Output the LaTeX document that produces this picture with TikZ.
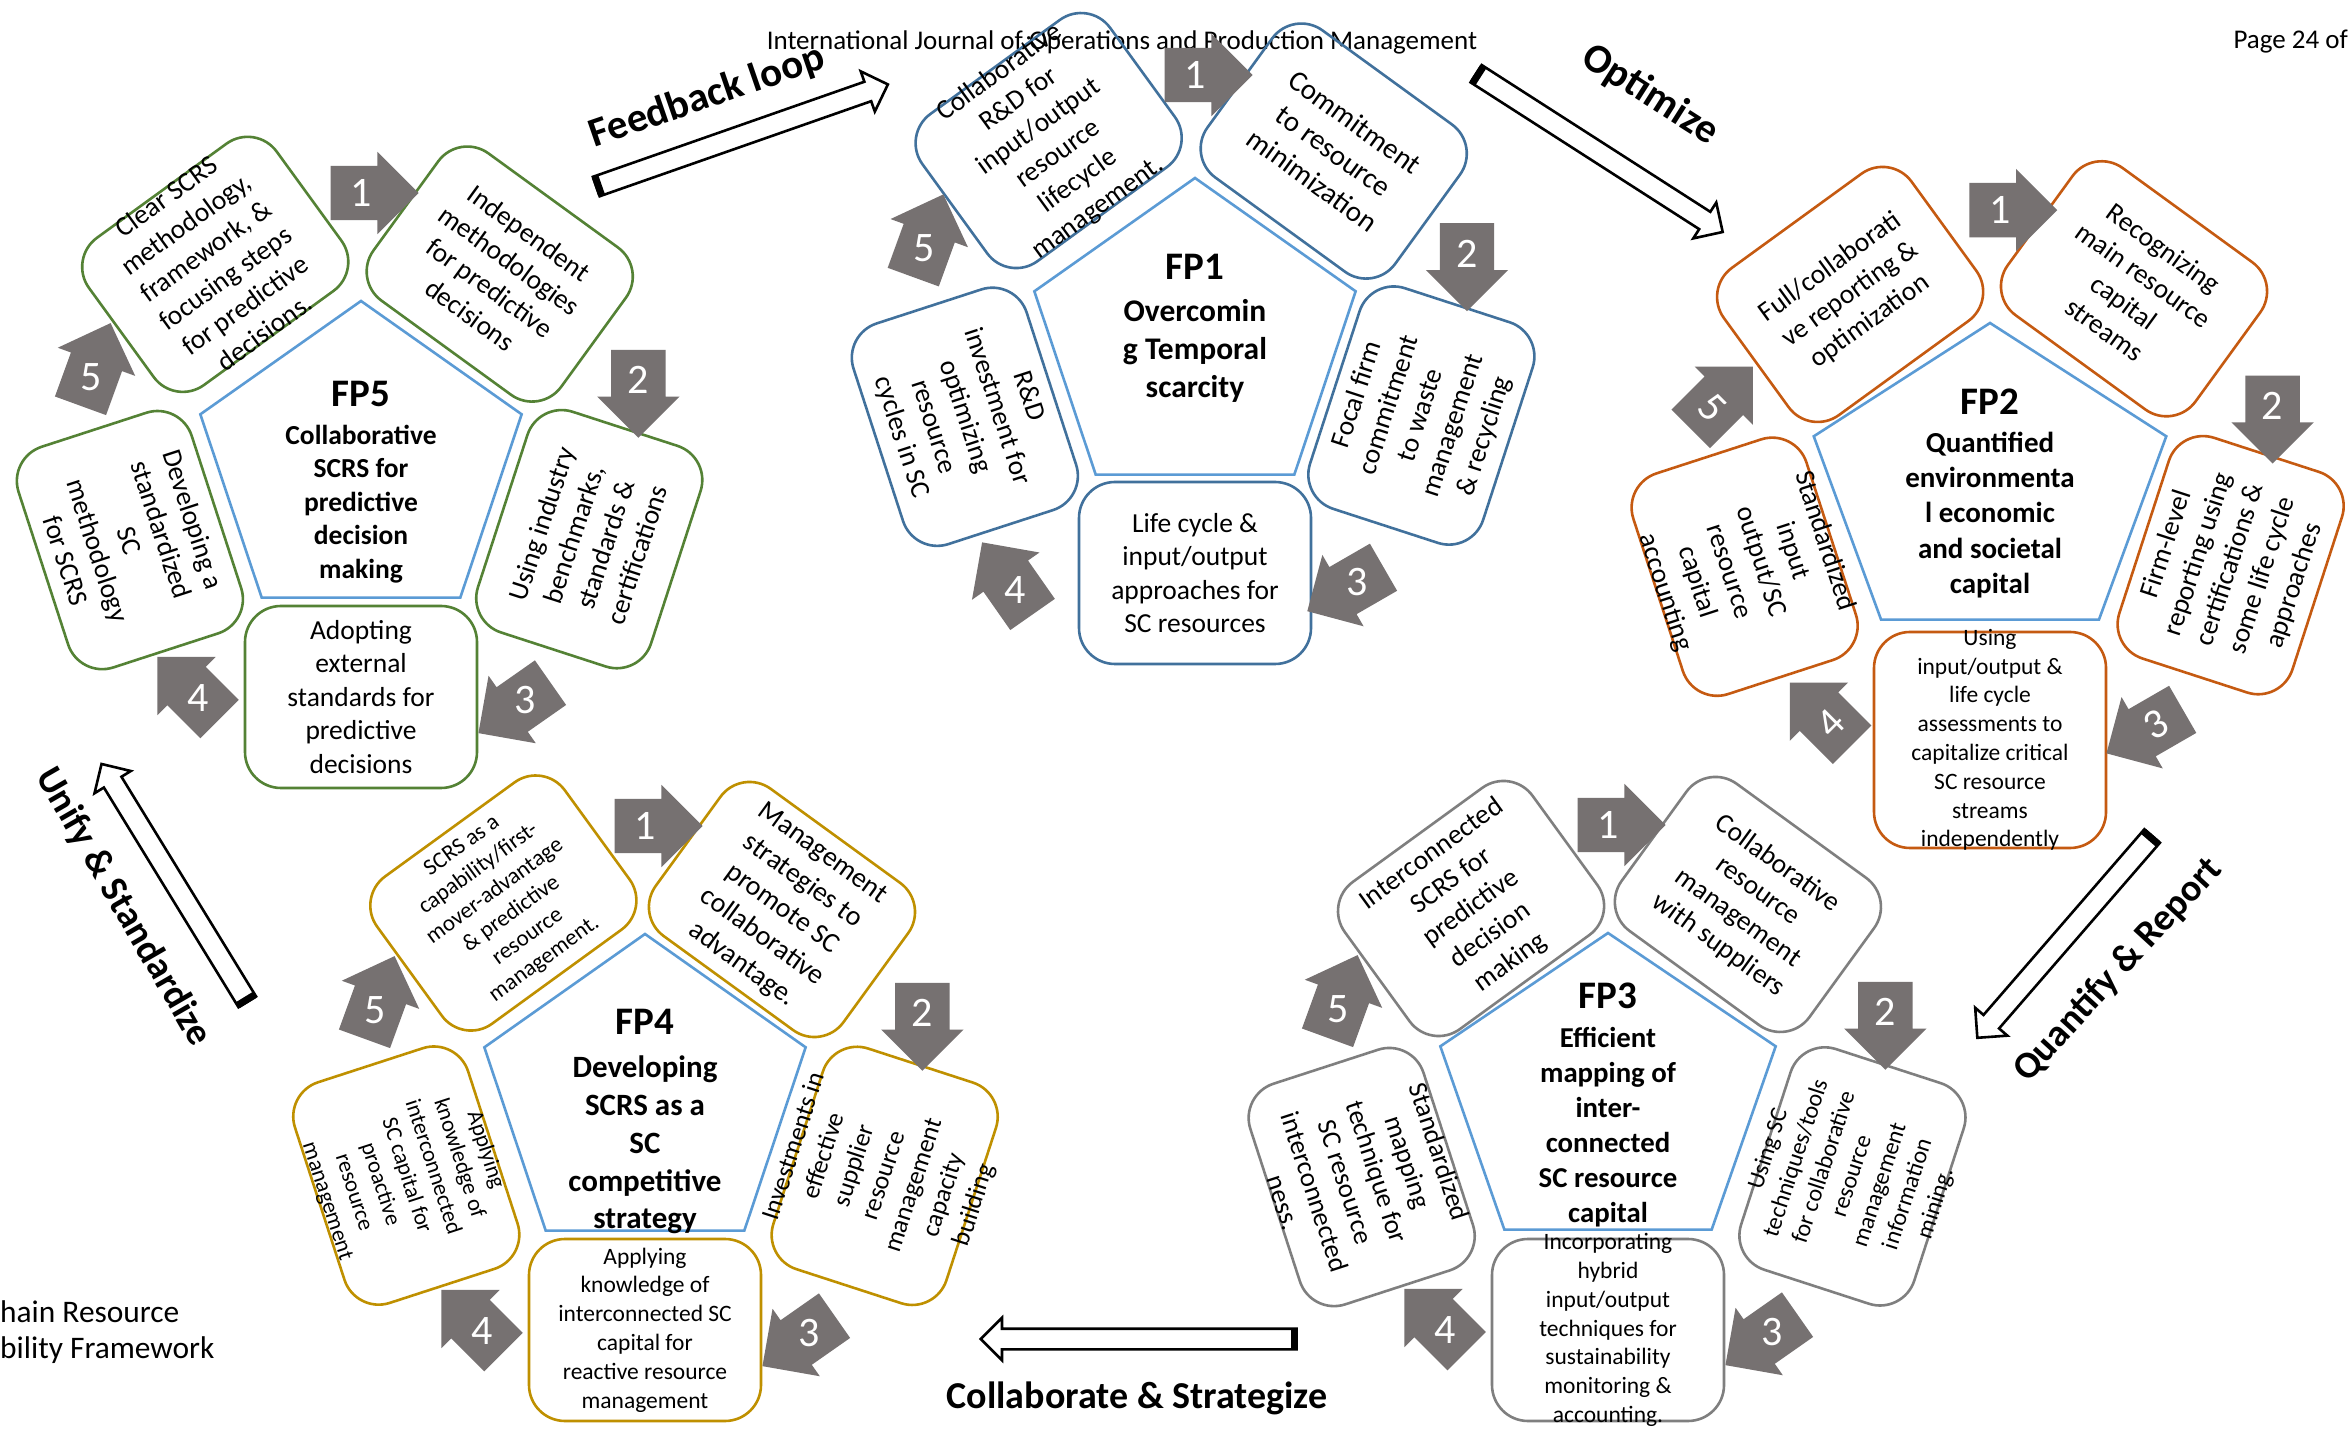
\documentclass[tikz,border=0pt]{standalone}
\usepackage{fontspec}
\setmainfont{Carlito}
\usetikzlibrary{calc,shapes.geometric,shapes.arrows}
\definecolor{fpGreen}{RGB}{84,130,53}
\definecolor{fpSteel}{RGB}{65,113,156}
\definecolor{fpRust}{RGB}{197,90,17}
\definecolor{fpGray}{RGB}{127,127,127}
\definecolor{fpGold}{RGB}{191,144,0}
\definecolor{pentBlue}{RGB}{91,155,213}
\definecolor{stepGray}{RGB}{118,113,113}
\tikzset{
  fpbox/.style={draw,rounded corners=36pt,line width=2.6pt,minimum width=232pt,minimum height=182pt,inner sep=0pt},
  fptext/.style={align=center,inner sep=0pt,font=\fontsize{27.5}{33.5}\selectfont},
  fpsmall/.style={align=center,inner sep=0pt,font=\fontsize{23.5}{28.8}\selectfont},
  pentbox/.style={draw=pentBlue,regular polygon,regular polygon sides=5,minimum size=328pt,inner sep=0pt,line width=2.6pt},
  fpname/.style={font=\bfseries\fontsize{39}{44}\selectfont,inner sep=0pt},
  fptitle/.style={align=center,inner sep=0pt},
  steparrow/.style={single arrow,fill=stepGray,minimum height=88pt,inner xsep=0pt,inner ysep=27pt,single arrow head extend=14pt},
  stepnum/.style={text=white,font=\fontsize{42}{42}\selectfont,inner sep=0pt},
  flowarrow/.style={single arrow,draw=black,fill=white,line width=2.6pt,inner xsep=0pt,inner ysep=9pt,single arrow head extend=11pt,anchor=west},
  flowlabel/.style={font=\bfseries\fontsize{38}{44}\selectfont,inner sep=0pt}
}
\begin{document}
\begin{tikzpicture}[x=1pt,y=1pt]
\useasboundingbox (0,0) rectangle (2352,1428);
\fill[white] (0,0) rectangle (2352,1428);
% page header and cut-off caption
\node[font=\fontsize{27}{32}\selectfont] (header) at (1122,1386) {International Journal of Operations and Production Management};
\node[font=\fontsize{27}{32}\selectfont,anchor=west] (pagenum) at (2230,1386) {Page 24 of};
\node[font=\fontsize{31.4}{36}\selectfont,anchor=base west,inner sep=0pt] (capone) at (0,106) {hain Resource};
\node[font=\fontsize{31.4}{36}\selectfont,anchor=base west,inner sep=0pt] (captwo) at (0,70) {bility Framework};

% centres of the five propositions
\coordinate (fp5) at (361,963);
\coordinate (fp1) at (1195,1086);
\coordinate (fp2) at (1990,941);
\coordinate (fp3) at (1608,331);
\coordinate (fp4) at (645,330);

% FP5
\node[pentbox,xscale=1.03] (fp5pent) at (fp5) {};
\node[fpname] (fp5name) at ($(fp5)+(0,71)$) {FP5};
\node[fptitle,font=\bfseries\fontsize{27.5}{33.5}\selectfont] (fp5title) at ($(fp5)+(0,-39)$) {Collaborative\\SCRS for\\predictive\\decision\\making};
\node[fpbox,draw=fpGreen,rotate=36] (fp5boxa) at ($(fp5)+(126:248)$) {};
\node[fptext,rotate=36] (fp5texta) at (fp5boxa) {Clear SCRS\\methodology,\\framework, \&\\focusing steps\\for predictive\\decisions.};
\node[fpbox,draw=fpGreen,rotate=-36] (fp5boxb) at ($(fp5)+(54:236)$) {};
\node[fptext,rotate=-36] (fp5textb) at (fp5boxb) {Independent\\methodologies\\for predictive\\decisions};
\node[fpbox,draw=fpGreen,rotate=72] (fp5boxc) at ($(fp5)+(-18:240)$) {};
\node[fptext,rotate=72] (fp5textc) at (fp5boxc) {Using industry\\benchmarks,\\standards \&\\certifications};
\node[fpbox,draw=fpGreen] (fp5boxd) at ($(fp5)+(-90:232)$) {};
\node[fptext] (fp5textd) at (fp5boxd) {Adopting\\external\\standards for\\predictive\\decisions};
\node[fpbox,draw=fpGreen,rotate=-72] (fp5boxe) at ($(fp5)+(198:243)$) {};
\node[fptext,rotate=-72] (fp5texte) at (fp5boxe) {Developing a\\standardized\\SC\\methodology\\for SCRS};

% FP1
\node[pentbox,xscale=1.03] (fp1pent) at (fp1) {};
\node[fpname] (fp1name) at ($(fp1)+(0,75)$) {FP1};
\node[fptitle,font=\bfseries\fontsize{31.5}{38.4}\selectfont] (fp1title) at ($(fp1)+(0,-9)$) {Overcomin\\g Temporal\\scarcity};
\node[fpbox,draw=fpSteel,rotate=36] (fp1boxa) at ($(fp1)+(126:249)$) {};
\node[fptext,rotate=36] (fp1texta) at (fp1boxa) {Collaborative\\R\&D for\\input/output\\resource\\lifecycle\\management.};
\node[fpbox,draw=fpSteel,rotate=-36] (fp1boxb) at ($(fp1)+(54:236)$) {};
\node[fptext,rotate=-36,font=\fontsize{29}{36}\selectfont] (fp1textb) at (fp1boxb) {Commitment\\to resource\\minimization};
\node[fpbox,draw=fpSteel,rotate=72] (fp1boxc) at ($(fp1)+(-18:238)$) {};
\node[fptext,rotate=72] (fp1textc) at (fp1boxc) {Focal firm\\commitment\\to waste\\management\\\& recycling};
\node[fpbox,draw=fpSteel] (fp1boxd) at ($(fp1)+(-90:231)$) {};
\node[fptext] (fp1textd) at (fp1boxd) {Life cycle \&\\input/output\\approaches for\\SC resources};
\node[fpbox,draw=fpSteel,rotate=-72] (fp1boxe) at ($(fp1)+(198:242)$) {};
\node[fptext,rotate=-72] (fp1texte) at (fp1boxe) {R\&D\\investment for\\optimizing\\resource\\cycles in SC};

% FP2
\node[pentbox,xscale=1.13] (fp2pent) at (fp2) {};
\node[fpname] (fp2name) at ($(fp2)+(0,85)$) {FP2};
\node[fptitle,font=\bfseries\fontsize{29}{35.4}\selectfont] (fp2title) at ($(fp2)+(0,-28)$) {Quantified\\environmenta\\l economic\\and societal\\capital};
\node[fpbox,draw=fpRust,rotate=36] (fp2boxa) at ($(fp2)+(126:238)$) {};
\node[fptext,rotate=36] (fp2texta) at (fp2boxa) {Full/collaborati\\ve reporting \&\\optimization};
\node[fpbox,draw=fpRust,rotate=-36] (fp2boxb) at ($(fp2)+(54:245)$) {};
\node[fptext,rotate=-36] (fp2textb) at (fp2boxb) {Recognizing\\main resource\\capital\\streams};
\node[fpbox,draw=fpRust,rotate=72] (fp2boxc) at ($(fp2)+(-18:253)$) {};
\node[fptext,rotate=72] (fp2textc) at (fp2boxc) {Firm-level\\reporting using\\certifications \&\\some life cycle\\approaches};
\node[fpbox,draw=fpRust,minimum height=216pt] (fp2boxd) at ($(fp2)+(-90:253)$) {};
\node[fpsmall] (fp2textd) at (fp2boxd) {Using\\input/output \&\\life cycle\\assessments to\\capitalize critical\\SC resource\\streams\\independently};
\node[fpbox,draw=fpRust,rotate=-72] (fp2boxe) at ($(fp2)+(198:258)$) {};
\node[fptext,rotate=-72] (fp2texte) at (fp2boxe) {Standardized\\input\\output/SC\\resource\\capital\\accounting};

% FP3
\node[pentbox,xscale=1.075] (fp3pent) at (fp3) {};
\node[fpname] (fp3name) at ($(fp3)+(0,101)$) {FP3};
\node[fptitle,font=\bfseries\fontsize{28.8}{35.1}\selectfont] (fp3title) at ($(fp3)+(0,-30)$) {Efficient\\mapping of\\inter-\\connected\\SC resource\\capital};
\node[fpbox,draw=fpGray,rotate=36] (fp3boxa) at ($(fp3)+(126:233)$) {};
\node[fptext,rotate=36] (fp3texta) at (fp3boxa) {Interconnected\\SCRS for\\predictive\\decision\\making};
\node[fpbox,draw=fpGray,rotate=-36] (fp3boxb) at ($(fp3)+(54:238)$) {};
\node[fptext,rotate=-36] (fp3textb) at (fp3boxb) {Collaborative\\resource\\management\\with suppliers};
\node[fpbox,draw=fpGray,rotate=72] (fp3boxc) at ($(fp3)+(-18:257)$) {};
\node[fptext,rotate=72,font=\fontsize{24}{29.3}\selectfont] (fp3textc) at (fp3boxc) {Using SC\\techniques/tools\\for collaborative\\resource\\management\\information\\mining.};
\node[fpbox,draw=fpGray] (fp3boxd) at ($(fp3)+(-90:233)$) {};
\node[fpsmall] (fp3textd) at (fp3boxd) {Incorporating\\hybrid\\input/output\\techniques for\\sustainability\\monitoring \&\\accounting.};
\node[fpbox,draw=fpGray,rotate=-72] (fp3boxe) at ($(fp3)+(198:259)$) {};
\node[fptext,rotate=-72,font=\fontsize{27}{32.8}\selectfont] (fp3texte) at (fp3boxe) {Standardized\\mapping\\technique for\\SC resource\\interconnected\\ness.};

% FP4
\node[pentbox,xscale=1.03] (fp4pent) at (fp4) {};
\node[fpname] (fp4name) at ($(fp4)+(0,76)$) {FP4};
\node[fptitle,font=\bfseries\fontsize{31}{37.8}\selectfont] (fp4title) at ($(fp4)+(0,-47)$) {Developing\\SCRS as a\\SC\\competitive\\strategy};
\node[fpbox,draw=fpGold,rotate=36] (fp4boxa) at ($(fp4)+(126:241)$) {};
\node[fptext,rotate=36,font=\fontsize{23}{28}\selectfont] (fp4texta) at (fp4boxa) {SCRS as a\\capability/first-\\mover-advantage\\\& predictive\\resource\\management.};
\node[fpbox,draw=fpGold,rotate=-36] (fp4boxb) at ($(fp4)+(54:233)$) {};
\node[fptext,rotate=-36,font=\fontsize{28}{34.4}\selectfont] (fp4textb) at (fp4boxb) {Management\\strategies to\\promote SC\\collaborative\\advantage.};
\node[fpbox,draw=fpGold,rotate=72] (fp4boxc) at ($(fp4)+(-18:252)$) {};
\node[fptext,rotate=72,font=\fontsize{25.8}{31.5}\selectfont] (fp4textc) at (fp4boxc) {Investments in\\effective\\supplier\\resource\\management\\capacity\\building};
\node[fpbox,draw=fpGold] (fp4boxd) at ($(fp4)+(-90:232)$) {};
\node[fpsmall] (fp4textd) at (fp4boxd) {Applying\\knowledge of\\interconnected SC\\capital for\\reactive resource\\management};
\node[fpbox,draw=fpGold,rotate=-72] (fp4boxe) at ($(fp4)+(198:251)$) {};
\node[fptext,rotate=-72,font=\fontsize{22.7}{27.7}\selectfont] (fp4texte) at (fp4boxe) {Applying\\knowledge of\\interconnected\\SC capital for\\proactive\\resource\\management};

% numbered step arrows round each pentagon
\foreach \c in {fp3,fp4,fp5}{
  \foreach \n/\ang/\dist/\dir in {1/90/272/0, 2/17/290/-90, 3/-55/287/-145, 4/-125/284/135, 5/162/284/70}{
    \node[steparrow,rotate=\dir] (\c arr\n) at ($(\c)+(\ang:\dist)$) {};
    \node[stepnum] (\c num\n) at (\c arr\n) {\n};
  }
}
\foreach \n/\ang/\dist/\dir in {1/90/267/0, 2/18/286/-90, 3/-56/290/-150, 4/-126/306/125, 5/161/287/70}{
  \node[steparrow,rotate=\dir] (fp1arr\n) at ($(fp1)+(\ang:\dist)$) {};
  \node[stepnum] (fp1num\n) at (fp1arr\n) {\n};
}
\foreach \n/\ang/\dist/\dir/\tilt in {1/88/277/0/0, 2/16/294/-90/0, 3/-55/290/-150/30, 4/-124/285/135/45, 5/164/289/45/-45}{
  \node[steparrow,rotate=\dir] (fp2arr\n) at ($(fp2)+(\ang:\dist)$) {};
  \node[stepnum,rotate=\tilt] (fp2num\n) at (fp2arr\n) {\n};
}

% hollow arrows between the propositions
\node[flowarrow,rotate=19.3,minimum height=309pt] (fbkarrow) at (595,1241) {};
\draw[line width=19pt] (fbkarrow.west) -- ($(fbkarrow.west)!7pt!(fbkarrow.east)$);
\node[flowlabel,rotate=19,font=\bfseries\fontsize{41}{46}\selectfont] (fbklabel) at (707,1331) {Feedback loop};
\node[flowarrow,rotate=-32.7,minimum height=293pt] (optarrow) at (1475,1355) {};
\draw[line width=19pt] (optarrow.west) -- ($(optarrow.west)!7pt!(optarrow.east)$);
\node[flowlabel,rotate=-32.5,font=\bfseries\fontsize{41}{46}\selectfont] (optlabel) at (1650,1333) {Optimize};
\node[flowarrow,rotate=-130.9,minimum height=267pt] (qntarrow) at (2153,593) {};
\draw[line width=19pt] (qntarrow.west) -- ($(qntarrow.west)!7pt!(qntarrow.east)$);
\node[flowlabel,rotate=47.5] (qntlabel) at (2118,458) {Quantify \& Report};
\node[flowarrow,rotate=180,minimum height=316pt] (colarrow) at (1298,89) {};
\draw[line width=19pt] (colarrow.west) -- ($(colarrow.west)!7pt!(colarrow.east)$);
\node[flowlabel] (collabel) at (1137,30) {Collaborate \& Strategize};
\node[flowarrow,rotate=121.5,minimum height=279pt] (uniarrow) at (248,425) {};
\draw[line width=19pt] (uniarrow.west) -- ($(uniarrow.west)!7pt!(uniarrow.east)$);
\node[flowlabel,rotate=-60] (unilabel) at (123,521) {Unify \& Standardize};
\end{tikzpicture}
\end{document}
